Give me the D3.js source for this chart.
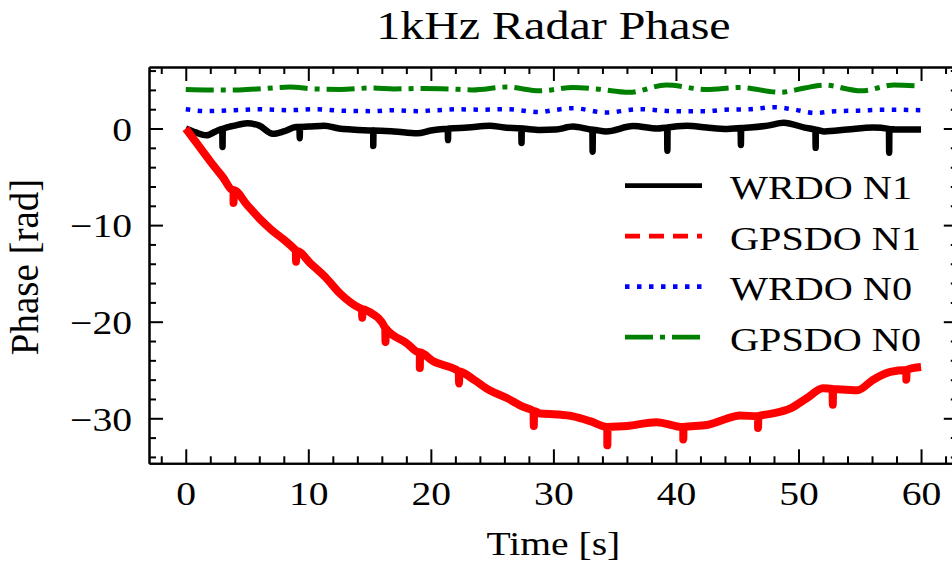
<!DOCTYPE html>
<html>
<head>
<meta charset="utf-8">
<script src="https://cdn.jsdelivr.net/npm/d3@7"></script>
<style>
  body { margin: 0; background: #fff; }
  text { font-family: "Liberation Serif", serif; fill: #000; }
</style>
</head>
<body>
<div id="chart"></div>
<script>
var width = 952, height = 565;

// series: time [s] and phase [rad]
var wrdoN1T = [0,0.8,1.7,2.6,4,5,6,7.1,8,9,10,11.3,12.5,13.5,15.3,17,18.9,20,21.5,23,24.8,26,27.5,28.9,30.2,31.6,33,34.3,36.5,38.5,40.9,42.5,44.2,46,47.5,48.8,50.5,52.1,54,56.1,58,60];
var wrdoN1V = [0,-0.4,-0.7,-0.2,0.3,0.55,0.3,-0.55,-0.3,0.15,0.2,0.3,0,-0.1,-0.2,-0.3,-0.5,-0.2,0,0.1,0.3,0.1,0,-0.15,-0.1,0.2,-0.1,-0.3,0.25,0,0.3,0.1,-0.05,0.1,0.3,0.6,0.1,-0.3,-0.1,0.1,-0.1,-0.1];
var wrdoN1SpikeT = [3.0,9.3,15.3,21.4,27.4,33.2,39.3,45.3,51.4,57.4];
var wrdoN1SpikeV = [-1.9,-1.0,-1.8,-1.2,-1.5,-2.4,-2.3,-1.7,-2.0,-2.5];

var gpsdoN1T = [0,1,2,3,3.9,5,6,7,8,8.8,10.2,11.4,12.6,14.2,15,16.4,18,19.1,20.2,22.1,23.5,24.8,26.2,27.5,28.9,30.3,31.6,33,34.4,36,38.4,40.6,42.5,44,45.2,46.7,47.9,49.3,50.7,52,53.2,54.8,56.1,57.5,58.8,60];
var gpsdoN1V = [0,-1.7,-3.4,-5,-6.4,-7.9,-9.3,-10.5,-11.5,-12.4,-14.0,-15.4,-17.1,-18.6,-19.0,-20.8,-22.2,-23.2,-24.1,-25.0,-26.0,-27.1,-27.9,-28.8,-29.5,-29.6,-29.8,-30.3,-30.9,-30.8,-30.4,-30.9,-30.7,-30.1,-29.7,-29.8,-29.5,-29.0,-27.9,-26.9,-27.0,-27.1,-26.0,-25.2,-25.0,-24.7];
var gpsdoN1SpikeT = [3.9,9.0,14.4,16.3,19.1,22.3,28.4,34.4,40.6,46.7,52.8,58.8];
var gpsdoN1SpikeV = [-7.7,-13.8,-19.6,-22.1,-24.8,-26.4,-30.8,-32.8,-32.2,-31.0,-28.6,-26.0];

var wrdoN0T = [0,1.7,4,6,8.5,10.5,12.6,15.3,17,18.9,20.5,22.1,24,26.2,28.9,30,31.6,34.3,37,39.8,42.5,44,46,48,49.5,51.4,53,54.9,57,60];
var wrdoN0V = [2.0,1.8,1.9,2.0,1.9,2.0,1.85,1.8,1.9,1.8,1.9,2.0,1.95,2.0,1.7,1.9,2.1,1.65,2.0,1.8,1.8,1.95,2.0,2.2,2.0,1.6,1.8,1.85,1.95,1.9];

var gpsdoN0T = [0,2,4.4,6.5,8.5,10.5,12.6,15.3,17,19.4,21.5,23.4,26.2,28.9,31.6,33.5,36.2,39.2,42.5,45.2,48.5,50.5,52.1,55.1,57.8,60];
var gpsdoN0V = [4.05,4.0,4.0,4.15,4.3,4.1,4.05,4.2,4.1,4.15,4.1,4.0,4.3,3.9,4.25,4.1,3.75,4.5,4.05,4.25,3.75,4.2,4.5,3.9,4.5,4.4];

var labels = ["WRDO N1","GPSDO N1","WRDO N0","GPSDO N0"];
var xMajor = [0,10,20,30,40,50,60];
var yMajor = [-30,-20,-10,0];

var colors = ["#000000","#ff0000","#0000ff","#008000"];
var dashes = [null,"15,9","4.5,7.5","28,7,5,7"];
var plotWidths = [6.5,8,4.5,5];
var sx = 1.2; // picture is stretched sideways

// join a base curve and its downward glitches into one point list
function buildPoints(ts, vs, spT, spV) {
  var pts = ts.map(function(t, i) { return {t: t, v: vs[i]}; });
  if (spT) {
    spT.forEach(function(t, i) {
      var base = d3.scaleLinear().domain(ts).range(vs)(t);
      pts.push({t: t - 0.02, v: base});
      pts.push({t: t, v: spV[i]});
      pts.push({t: t + 0.02, v: base});
    });
  }
  pts.sort(function(a, b) { return a.t - b.t; });
  return pts;
}

var series = [
  buildPoints(wrdoN1T, wrdoN1V, wrdoN1SpikeT, wrdoN1SpikeV),
  buildPoints(gpsdoN1T, gpsdoN1V, gpsdoN1SpikeT, gpsdoN1SpikeV),
  buildPoints(wrdoN0T, wrdoN0V),
  buildPoints(gpsdoN0T, gpsdoN0V)
];

var pLeft = 149, pRight = 957.8, pTop = 67, pBottom = 463.3;
var x = d3.scaleLinear().domain([-3, 63]).range([pLeft, pRight]);
var y = d3.scaleLinear().domain([-34.66, 6.37]).range([pBottom, pTop]);

var svg = d3.select("#chart").append("svg")
  .attr("width", width)
  .attr("height", height);

svg.append("defs").append("clipPath").attr("id", "clip")
  .append("rect")
  .attr("x", pLeft).attr("y", pTop)
  .attr("width", pRight - pLeft).attr("height", pBottom - pTop);

var line = d3.line()
  .curve(d3.curveMonotoneX)
  .x(function(d) { return x(d.t); })
  .y(function(d) { return y(d.v); });

var lines = svg.append("g").attr("clip-path", "url(#clip)");
series.forEach(function(pts, i) {
  lines.append("path")
    .datum(pts)
    .attr("d", line)
    .attr("fill", "none")
    .attr("stroke", colors[i])
    .attr("stroke-width", plotWidths[i])
    .attr("stroke-linejoin", "round")
    .attr("stroke-dasharray", i == 1 ? null : dashes[i]);
});

// minor ticks every 2 units
var xMinor = d3.range(-2, 63, 2).filter(function(v) { return v % 10 != 0; });
var yMinor = d3.range(-34, 7, 2).filter(function(v) { return v % 10 != 0; });

function styleAxis(g) {
  g.selectAll("path, line").attr("stroke", "#000").attr("stroke-width", 2);
}

svg.append("g").attr("transform", "translate(0," + pBottom + ")")
  .call(d3.axisBottom(x).tickValues(xMinor).tickSize(-7).tickSizeOuter(0).tickFormat(""))
  .call(styleAxis);
svg.append("g").attr("transform", "translate(0," + pTop + ")")
  .call(d3.axisTop(x).tickValues(xMinor).tickSize(-7).tickSizeOuter(0).tickFormat(""))
  .call(styleAxis);
svg.append("g").attr("transform", "translate(" + pLeft + ",0)")
  .call(d3.axisLeft(y).tickValues(yMinor).tickSize(-7).tickSizeOuter(0).tickFormat(""))
  .call(styleAxis);
svg.append("g").attr("transform", "translate(" + pRight + ",0)")
  .call(d3.axisRight(y).tickValues(yMinor).tickSize(-7).tickSizeOuter(0).tickFormat(""))
  .call(styleAxis);

svg.append("g").attr("transform", "translate(" + pRight + ",0)")
  .call(d3.axisRight(y).tickValues(yMajor).tickSize(-14).tickSizeOuter(0).tickFormat(""))
  .call(styleAxis);
svg.append("g").attr("transform", "translate(0," + pTop + ")")
  .call(d3.axisTop(x).tickValues(xMajor).tickSize(-14).tickSizeOuter(0).tickFormat(""))
  .call(styleAxis);

var xAxis = svg.append("g").attr("transform", "translate(0," + pBottom + ")")
  .call(d3.axisBottom(x).tickValues(xMajor).tickSize(-14).tickSizeOuter(0))
  .call(styleAxis);
xAxis.selectAll("text")
  .attr("y", 42).attr("dy", 0)
  .attr("font-size", 33)
  .attr("transform", "scale(" + sx + ",1)");

var yAxis = svg.append("g").attr("transform", "translate(" + pLeft + ",0)")
  .call(d3.axisLeft(y).tickValues(yMajor).tickSize(-14).tickSizeOuter(0)
    .tickFormat(function(d) { return d < 0 ? "\u2212" + (-d) : d; }))
  .call(styleAxis);
yAxis.selectAll("text")
  .attr("x", -17 / sx).attr("dy", "0.36em")
  .attr("font-size", 33)
  .attr("transform", "scale(" + sx + ",1)");

// title and axis labels
svg.append("text")
  .attr("transform", "translate(" + (pLeft + pRight) / 2 + ",39) scale(" + sx + ",1)")
  .attr("text-anchor", "middle")
  .attr("font-size", 40)
  .text("1kHz Radar Phase");

svg.append("text")
  .attr("transform", "translate(" + (pLeft + pRight) / 2 + ",555) scale(" + sx + ",1)")
  .attr("text-anchor", "middle")
  .attr("font-size", 33)
  .text("Time [s]");

svg.append("text")
  .attr("transform", "translate(38,267) rotate(-90)")
  .attr("text-anchor", "middle")
  .attr("font-size", 39)
  .text("Phase [rad]");

// legend
var legend = svg.append("g");
labels.forEach(function(lab, i) {
  var ly = 185.7 + i * 50.5;
  legend.append("line")
    .attr("x1", 625).attr("x2", 702)
    .attr("y1", ly).attr("y2", ly)
    .attr("stroke", colors[i])
    .attr("stroke-width", 4.8)
    .attr("stroke-dasharray", dashes[i]);
  legend.append("text")
    .attr("transform", "translate(730," + (ly + 13.6) + ") scale(" + sx + ",1)")
    .attr("font-size", 33.5)
    .text(lab);
});
</script>
</body>
</html>
